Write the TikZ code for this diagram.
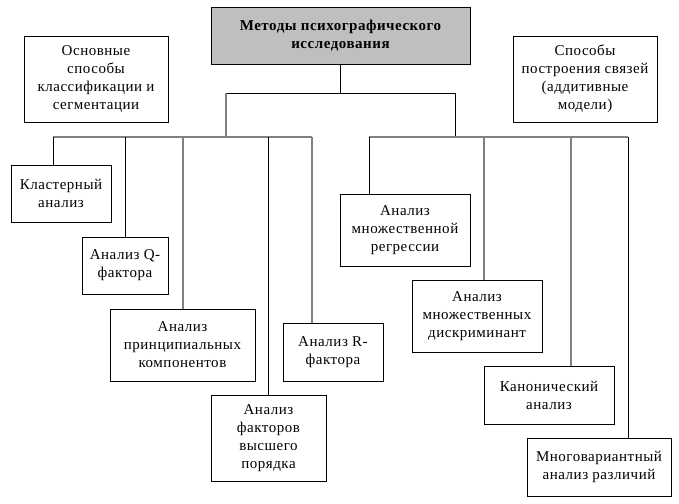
\documentclass[tikz,border=0pt]{standalone}
\usepackage{fontspec}
\setmainfont[LetterSpace=3.5]{Liberation Serif}
\begin{document}
\begin{tikzpicture}[x=1pt,y=-1pt,
  box/.style={draw=black,line width=0.9pt,align=center,inner sep=0pt,font=\fontsize{15}{18}\selectfont},
  ln/.style={draw=black,line width=0.9pt},
  gl/.style={draw=black!50,line width=1.3pt}]
\useasboundingbox (0,0) rectangle (679,503);
% boxes (centre, width, height)
\node[box,fill=black!25,minimum width=259pt,minimum height=57pt,font=\fontsize{15}{18}\selectfont\bfseries] (top) at (340.5,35.5) {Методы психографического\\исследования};
\node[box,minimum width=144pt,minimum height=86pt] (osn) at (96,79) {Основные\\способы\\классификации и\\сегментации};
\node[box,minimum width=144pt,minimum height=86pt] (spo) at (585,79) {Способы\\построения связей\\(аддитивные\\модели)};
\node[box,minimum width=100pt,minimum height=57pt] (cl) at (61,193.5) {Кластерный\\анализ};
\node[box,minimum width=86pt,minimum height=57pt] (q) at (125,265.5) {Анализ Q-\\фактора};
\node[box,minimum width=145pt,minimum height=72pt] (pc) at (182.5,345) {Анализ\\принципиальных\\компонентов};
\node[box,minimum width=100pt,minimum height=58pt] (r) at (333,352) {Анализ R-\\фактора};
\node[box,minimum width=115pt,minimum height=86pt] (hf) at (268.5,438) {Анализ\\факторов\\высшего\\порядка};
\node[box,minimum width=130pt,minimum height=72pt] (reg) at (405,230) {Анализ\\множественной\\регрессии};
\node[box,minimum width=130pt,minimum height=72pt] (dis) at (477,316) {Анализ\\множественных\\дискриминант};
\node[box,minimum width=130pt,minimum height=58pt] (can) at (549,395) {Канонический\\анализ};
\node[box,minimum width=144pt,minimum height=58pt] (mva) at (599,467) {Многовариантный\\анализ различий};
% junction coordinates
\coordinate (j0) at (340.5,93);
\coordinate (jl) at (226,93);
\coordinate (jr) at (455,93);
\coordinate (bl) at (226,137);
\coordinate (br) at (455,137);
\coordinate (l1) at (53,137);
\coordinate (l2) at (125,137);
\coordinate (l3) at (183,137);
\coordinate (l4) at (268,137);
\coordinate (l5) at (312,137);
\coordinate (r1) at (369,137);
\coordinate (r2) at (484,137);
\coordinate (r3) at (571,137);
\coordinate (r4) at (628,137);
% trunk
\draw[ln] (top.south) -- (j0);
\draw[ln] (jl) -- (jr);
\draw[gl] (jl) -- (bl);
\draw[ln] (jr) -- (br);
% bars
\draw[gl] (l1) -- (l5);
\draw[gl] (r1) -- (r4);
% drops
\draw[ln] (l1) -- (l1 |- cl.north);
\draw[ln] (l2) -- (l2 |- q.north);
\draw[gl] (l3) -- (l3 |- pc.north);
\draw[ln] (l4) -- (l4 |- hf.north);
\draw[gl] (l5) -- (l5 |- r.north);
\draw[ln] (r1) -- (r1 |- reg.north);
\draw[gl] (r2) -- (r2 |- dis.north);
\draw[gl] (r3) -- (r3 |- can.north);
\draw[ln] (r4) -- (r4 |- mva.north);
\end{tikzpicture}
\end{document}
